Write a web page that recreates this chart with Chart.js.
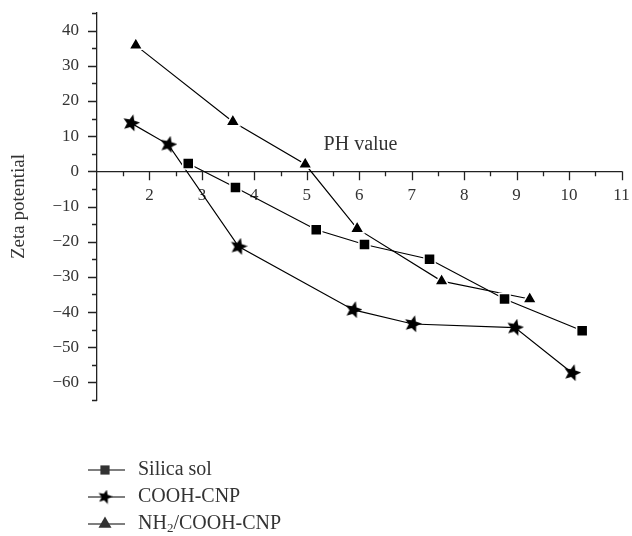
<!DOCTYPE html>
<html>
<head>
<meta charset="utf-8">
<title>Zeta potential vs PH</title>
<script src="https://cdn.jsdelivr.net/npm/chart.js"></script>
<style>
  html, body { margin: 0; padding: 0; background: #fff; }
  #chart { display: block; }
</style>
</head>
<body>
<canvas id="chart" width="632" height="536"></canvas>
<script>
// values
const silicaPH   = [2.74, 3.64, 5.18, 6.10, 7.34, 8.77, 10.25];
const silicaZeta = [2.2, -4.6, -16.6, -20.8, -25.0, -36.3, -45.3];

const coohPH   = [1.65, 2.36, 3.70, 5.89, 7.02, 8.97, 10.06];
const coohZeta = [13.7, 7.6, -21.4, -39.4, -43.4, -44.4, -57.3];

const nh2PH   = [1.74, 3.59, 4.97, 5.96, 7.57, 9.25];
const nh2Zeta = [35.8, 14.1, 2.0, -16.3, -31.2, -36.3];

const seriesNames = ['Silica sol', 'COOH-CNP', 'NH2/COOH-CNP'];
const xTickLabels = [2, 3, 4, 5, 6, 7, 8, 9, 10, 11];
const yTickLabels = [40, 30, 20, 10, 0, -10, -20, -30, -40, -50, -60];

const FONT = "'Liberation Serif', 'DejaVu Serif', serif";
const TEXT = '#333';
const AXIS = '#222';

function starImage(size) {
  const c = document.createElement('canvas');
  c.width = c.height = size;
  const g = c.getContext('2d');
  const r = size / 2, ri = r * 0.45;
  g.beginPath();
  for (let i = 0; i < 10; i++) {
    const a = -Math.PI / 2 + 0.25 + i * Math.PI / 5;
    const rr = i % 2 ? ri : r;
    g.lineTo(r + rr * Math.cos(a), r + rr * Math.sin(a));
  }
  g.closePath();
  g.fillStyle = '#000';
  g.fill();
  return c;
}
const star = starImage(18);
const smallStar = starImage(15);

const pts = (xs, ys) => xs.map((v, i) => ({x: v, y: ys[i]}));

const base = {
  borderColor: '#000',
  backgroundColor: '#000',
  borderWidth: 1.2,
  pointBorderColor: '#fff',
  pointBorderWidth: 1.5,
  pointBackgroundColor: '#000',
  tension: 0
};

const datasets = [
  Object.assign({}, base, {label: seriesNames[0], data: pts(silicaPH, silicaZeta), pointStyle: 'rect', pointRadius: 7.8}),
  Object.assign({}, base, {label: seriesNames[1], data: pts(coohPH, coohZeta), pointStyle: star, pointRadius: 9}),
  Object.assign({}, base, {label: seriesNames[2], data: pts(nh2PH, nh2Zeta), pointStyle: 'triangle', pointRadius: 8})
];
const legendMarks = [{style: 'rect', r: 6.5}, {style: smallStar, r: 7.5}, {style: 'triangle', r: 7.5}];

const extras = {
  id: 'extras',
  afterDraw(chart) {
    const {ctx, scales: {x, y}} = chart;
    const y0 = y.getPixelForValue(0);
    ctx.save();
    ctx.strokeStyle = AXIS;
    ctx.lineWidth = 1.3;
    ctx.beginPath();
    x.ticks.forEach(t => {
      if (t.value <= 1) return;
      const px = Math.round(x.getPixelForValue(t.value)) + 0.5;
      const len = Number.isInteger(t.value) ? 9 : 5;
      ctx.moveTo(px, y0);
      ctx.lineTo(px, y0 + len);
    });
    y.ticks.forEach(t => {
      const py = Math.round(y.getPixelForValue(t.value)) + 0.5;
      const len = t.value % 10 === 0 ? 9 : 5;
      ctx.moveTo(y.right - len, py);
      ctx.lineTo(y.right, py);
    });
    ctx.stroke();

    // axis name sitting on the x axis
    ctx.fillStyle = TEXT;
    ctx.font = '20px ' + FONT;
    ctx.textBaseline = 'middle';
    ctx.textAlign = 'left';
    ctx.fillText('PH value', x.getPixelForValue(5.32), y0 - 27);

    // legend
    const rows = [470, 497, 524];
    chart.data.datasets.forEach((ds, i) => {
      const ry = rows[i];
      ctx.strokeStyle = '#000';
      ctx.lineWidth = 1.2;
      ctx.beginPath();
      ctx.moveTo(88, ry);
      ctx.lineTo(125, ry);
      ctx.stroke();
      Chart.helpers.drawPoint(ctx, {
        pointStyle: legendMarks[i].style,
        radius: legendMarks[i].r,
        borderWidth: 0
      }, 105, ry);
      ctx.fillStyle = TEXT;
      ctx.font = '20px ' + FONT;
      ctx.textBaseline = 'middle';
      if (i === 2) {
        let tx = 138;
        ctx.fillText('NH', tx, ry);
        tx += ctx.measureText('NH').width;
        ctx.font = '13px ' + FONT;
        ctx.fillText('2', tx, ry + 5);
        tx += ctx.measureText('2').width;
        ctx.font = '20px ' + FONT;
        ctx.fillText('/COOH-CNP', tx, ry);
      } else {
        ctx.fillText(ds.label, 138, ry);
      }
    });
    ctx.restore();
  }
};

new Chart(document.getElementById('chart').getContext('2d'), {
  type: 'line',
  data: {datasets},
  options: {
    responsive: false,
    animation: false,
    events: [],
    layout: {padding: {left: 0, top: 13, right: 10, bottom: 136}},
    plugins: {legend: {display: false}, tooltip: {enabled: false}},
    scales: {
      x: {
        type: 'linear',
        position: {y: 0},
        min: 1,
        max: 11,
        afterFit: s => { s.height = 0; s.paddingLeft = 0; s.paddingRight = 0; },
        ticks: {
          stepSize: 0.5,
          autoSkip: false,
          maxRotation: 0,
          padding: 14,
          color: TEXT,
          font: {family: FONT, size: 17},
          callback: v => xTickLabels.includes(v) ? String(v) : ''
        },
        grid: {display: true, drawOnChartArea: false, drawTicks: false},
        border: {display: true, color: AXIS, width: 1.3}
      },
      y: {
        min: -65,
        max: 45,
        afterFit: s => { s.width = 97; s.paddingTop = 0; s.paddingBottom = 0; },
        ticks: {
          stepSize: 5,
          autoSkip: false,
          padding: 18,
          color: TEXT,
          font: {family: FONT, size: 17},
          callback: v => yTickLabels.includes(v) ? (v < 0 ? '\u2212' + Math.abs(v) : String(v)) : ''
        },
        grid: {display: true, drawOnChartArea: false, drawTicks: false},
        border: {display: true, color: AXIS, width: 1.3},
        title: {
          display: true,
          text: 'Zeta potential',
          color: TEXT,
          font: {family: FONT, size: 19},
          padding: {top: 8, bottom: 0}
        }
      }
    }
  },
  plugins: [extras]
});
</script>
</body>
</html>
